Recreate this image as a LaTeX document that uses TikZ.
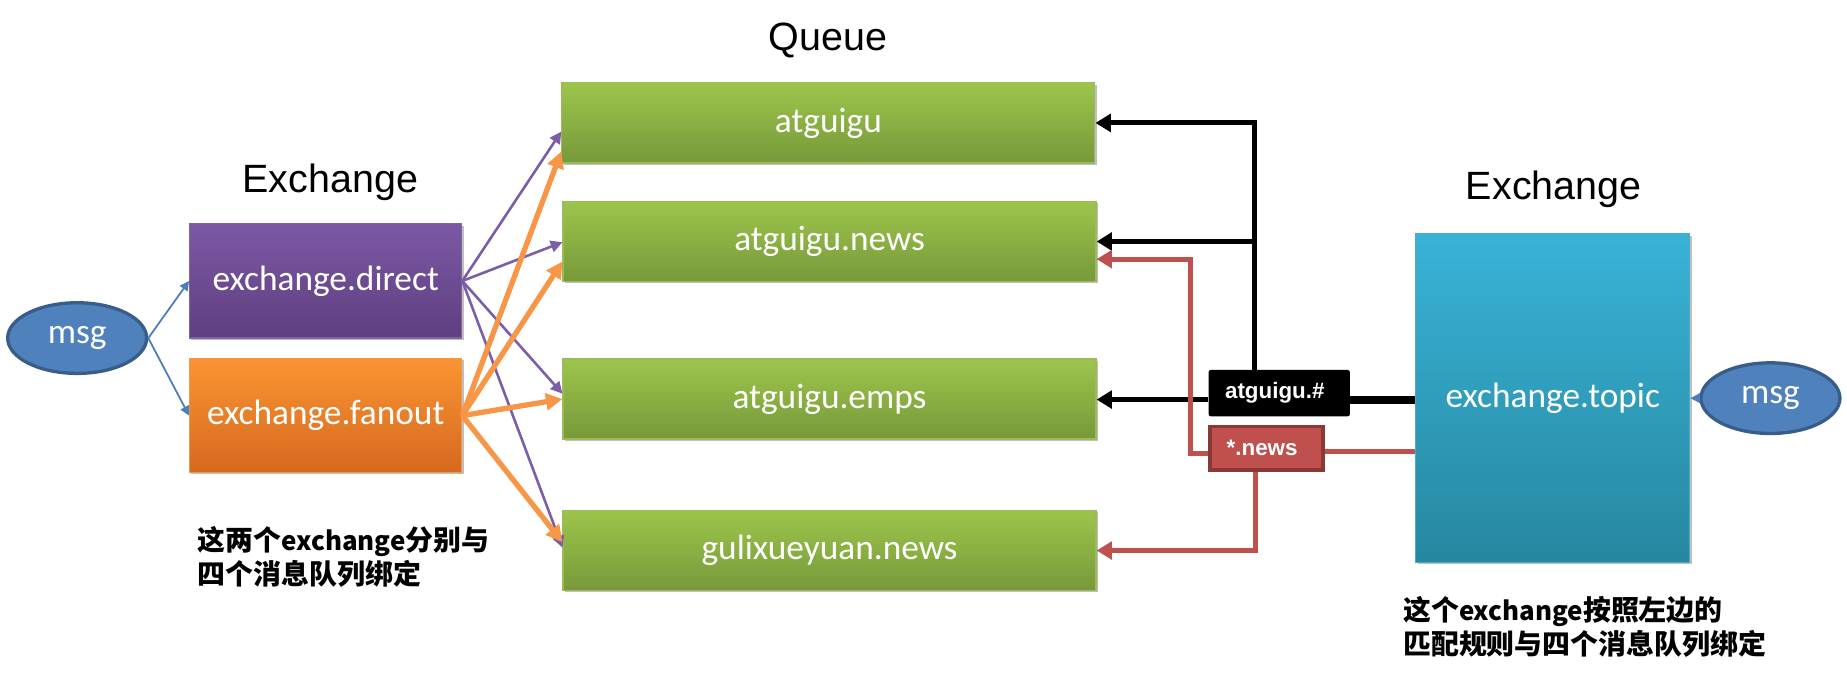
\documentclass[tikz,border=0pt]{standalone}
\usepackage{fontspec}
\setmainfont{Carlito}
\newfontfamily\arialf{Liberation Sans}
\newfontfamily\cjk{Noto Sans CJK SC}
\usetikzlibrary{arrows.meta,calc,shadows,shapes.geometric}
\pgfdeclarelayer{bg}
\pgfsetlayers{bg,main}
\definecolor{gTop}{HTML}{9DC54B}
\definecolor{gBot}{HTML}{77993A}
\definecolor{gBrd}{HTML}{9BBB59}
\definecolor{pTop}{HTML}{7D58A5}
\definecolor{pBot}{HTML}{5E3F80}
\definecolor{pBrd}{HTML}{8064A2}
\definecolor{oTop}{HTML}{FA9432}
\definecolor{oBot}{HTML}{D5691F}
\definecolor{oBrd}{HTML}{F79646}
\definecolor{cTop}{HTML}{38B3D7}
\definecolor{cBot}{HTML}{2787A0}
\definecolor{cBrd}{HTML}{4BACC6}
\definecolor{msgFill}{HTML}{4F81BD}
\definecolor{msgBrd}{HTML}{385D8A}
\definecolor{blueLine}{HTML}{4A7EBB}
\definecolor{purLine}{HTML}{7B5EA7}
\definecolor{orgLine}{HTML}{F79646}
\definecolor{redLine}{HTML}{C0504D}
\definecolor{redBrd}{HTML}{8C3836}
\newcommand{\latinpart}[1]{{\fontsize{22}{29}\selectfont #1}}
\begin{document}
\begin{tikzpicture}[x=1pt,y=-1pt,
  box/.style={rectangle, inner sep=0pt, text=white,
    font=\fontsize{30}{36}\selectfont,
    drop shadow={shadow xshift=1.5pt,shadow yshift=-1.5pt,opacity=0.25,fill=black}},
  queuebox/.style={box, top color=gTop, bottom color=gBot, draw=gBrd, line width=1pt,
    minimum width=452.5pt, minimum height=68pt},
  directbox/.style={box, top color=pTop, bottom color=pBot, draw=pBrd, line width=1pt,
    minimum width=231pt, minimum height=97pt},
  fanoutbox/.style={box, top color=oTop, bottom color=oBot, draw=oBrd, line width=1pt,
    minimum width=231pt, minimum height=97pt},
  topicbox/.style={box, top color=cTop, bottom color=cBot, draw=cBrd, line width=1pt,
    minimum width=232.5pt, minimum height=279pt},
  msgnode/.style={ellipse, inner sep=0pt, minimum width=118pt, minimum height=60pt,
    fill=msgFill, draw=msgBrd, line width=2.8pt, text=white,
    font=\fontsize{30}{36}\selectfont},
  title/.style={font=\arialf\fontsize{33.5}{40}\selectfont, inner sep=0pt, anchor=base},
  note/.style={font=\cjk\bfseries\fontsize{23.7}{29}\selectfont, inner sep=0pt,
    align=left, anchor=north west},
  bluearrow/.style={draw=blueLine, line width=1.5pt,
    -{Triangle[length=8pt,width=8pt]}},
  purarrow/.style={draw=purLine, line width=2.2pt,
    -{Triangle[length=10pt,width=10pt]}},
  orgarrow/.style={draw=orgLine, line width=4.5pt,
    -{Triangle[length=14pt,width=14pt]}},
  blkline/.style={draw=black, line width=4.2pt},
  blkarrow/.style={blkline, -{Triangle[length=13pt,width=15pt]}},
  redline/.style={draw=redLine, line width=4.2pt},
  redarrow/.style={redline, -{Triangle[length=13pt,width=15pt]}},
  labelbox/.style={rectangle, inner xsep=14pt, inner ysep=0pt, align=left,
    text=white, font=\arialf\bfseries\fontsize{19}{22}\selectfont}
]
\useasboundingbox (0,0) rectangle (1568,576.4);

% titles
\node[title] (tQueue) at (703,43) {Queue};
\node[title] (tExL) at (280.5,163) {Exchange};
\node[title] (tExR) at (1319,169) {Exchange};

% exchanges and messages
\node[msgnode] (msgL) at (65.5,287) {msg};
\node[directbox] (direct) at (276.5,238.5) {exchange.direct};
\node[fanoutbox] (fanout) at (276.5,352.8) {exchange.fanout};

% queues
\node[queuebox] (q1) at (703.25,104.35) {atguigu};
\node[queuebox] (q2) at (704.25,205) {atguigu.news};
\node[queuebox] (q3) at (704.25,338.75) {atguigu.emps};
\node[queuebox] (q4) at (704.25,467.35) {gulixueyuan.news};

% topic exchange
\node[topicbox] (topic) at (1318.25,338) {exchange.topic};
\node[msgnode] (msgR) at (1503,338) {msg};

% routing-key labels
\node[labelbox, fill=black, rounded corners=2pt, text width=92pt,
  minimum height=39.5pt] (lblA) at (1086,333.75) {atguigu.\#};
\node[labelbox, fill=redLine, draw=redBrd, text width=68pt,
  minimum height=37pt, line width=3pt] (lblN) at (1075.35,380.4) {*.news};

% msg arrows
\draw[bluearrow] (msgL.east) -- (direct.west);
\draw[bluearrow] (msgL.east) -- (fanout.west);
\draw[bluearrow] (msgR.west) -- (topic.east);

% direct bindings
\draw[purarrow] (direct.east) -- ($(q1.west)+(0,7.3)$);
\draw[purarrow] (direct.east) -- ($(q2.west)+(0,0.6)$);
\draw[purarrow] (direct.east) -- ($(q3.west)+(0,-4.5)$);
\draw[purarrow] (direct.east) -- ($(q4.west)+(0,-2.5)$);

% fanout bindings
\draw[orgarrow] (fanout.east) -- ($(q1.west)+(0,24.3)$);
\draw[orgarrow] (fanout.east) -- ($(q2.west)+(0,17)$);
\draw[orgarrow] (fanout.east) -- ($(q3.west)+(0,0)$);
\draw[orgarrow] (fanout.east) -- ($(q4.west)+(0,-7)$);

\begin{pgfonlayer}{bg}
% topic bindings: black (atguigu.#)
\coordinate (tA) at ($(topic.west)+(0,1.2)$);
\draw[blkline, line width=6.8pt] (tA) -- (tA -| lblA.east);
\draw[blkarrow] (tA -| lblA.west) -- (tA -| q3.east);
\coordinate (jA) at ($(lblA.north)+(-20.7,0)$);
\draw[blkarrow] (jA) |- (q1.east);
\draw[blkarrow] (jA) |- (q2.east);

% topic bindings: red (*.news)
\coordinate (tN) at ($(topic.west)+(0,45.2)$);
\draw[redline] (tN) -- (tN -| lblN.east);
\coordinate (rN) at ($(lblN.west)+(-15,4.2)$);
\draw[redarrow] ($(lblN.west)+(0,4.2)$) -- (rN) |- ($(q2.east)+(0,15)$);
\draw[redarrow] ($(lblN.south)+(-9.35,0)$) |- (q4.east);
\end{pgfonlayer}

% notes
\node[note] (noteL) at (167.8,446.5) {这两个\latinpart{exchange}分别与\\四个消息队列绑定};
\node[note] (noteR) at (1191,506) {这个\latinpart{exchange}按照左边的\\匹配规则与四个消息队列绑定};
\end{tikzpicture}
\end{document}
